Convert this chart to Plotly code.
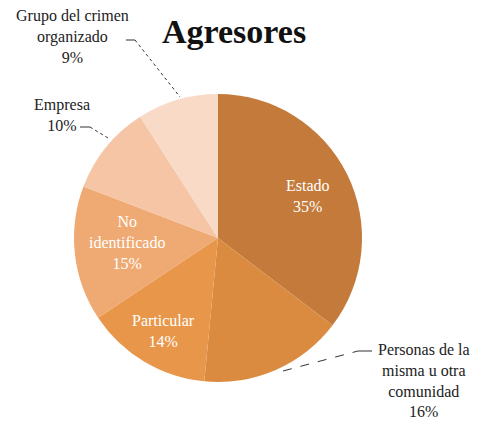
import plotly.graph_objects as go

categories = ["Estado", "Personas de la misma u otra comunidad", "Particular",
              "No identificado", "Empresa", "Grupo del crimen organizado"]
values = [35, 16, 14, 15, 10, 9]
label_lines = [["Estado"], ["Personas de la", "misma u otra", "comunidad"], ["Particular"],
               ["No", "identificado"], ["Empresa"], ["Grupo del crimen", "organizado"]]
colors = ["#C47A3A", "#DA8B40", "#E8964A", "#EFA972", "#F5C5A6", "#F8DAC7"]

# The page body has an 8px default margin; size the figure to the visible area.
OFF = 8
W, H = 483 - OFF, 421 - OFF

def px(x):
    return (x - OFF) / W

def py(y):
    return 1 - (y - OFF) / H

CX, CY, R = 218, 238, 144  # pie placement in window pixels

fig = go.Figure(go.Pie(
    labels=categories, values=values, sort=False, direction="clockwise", rotation=0,
    textinfo="none",
    marker=dict(colors=colors, line=dict(color="white", width=0)),
    domain=dict(x=[px(CX - R), px(CX + R)], y=[py(CY + R), py(CY - R)]),
    showlegend=False, hoverinfo="label+percent",
))

def lbl(i):
    return "<br>".join(label_lines[i] + [f"{values[i]}%"])

# label placement (window px): x, y-center, colour
place = [(308, 196, "white"), (424, 380, "#222"), (163, 331, "white"),
         (127, 242, "white"), (62, 115, "#222"), (72, 36, "#222")]

anns = [dict(text="<b>Agresores</b>", x=px(234), y=py(31),
             font=dict(family="Liberation Serif", size=34, color="#111"))]
for i, (lx, ly, col) in enumerate(place):
    anns.append(dict(text=lbl(i), x=px(lx), y=py(ly),
                     font=dict(family="Liberation Serif", size=16, color=col)))
for a in anns:
    a.update(xref="paper", yref="paper", showarrow=False, xanchor="center", yanchor="middle")

def seg(x0, y0, x1, y1, dash="solid"):
    return dict(type="line", xref="paper", yref="paper", x0=px(x0), y0=py(y0),
                x1=px(x1), y1=py(y1), line=dict(color="#333", width=1, dash=dash))

shapes = [
    seg(126, 40, 135, 40), seg(135, 40, 180, 97, "dot"),
    seg(80, 127, 90, 127), seg(90, 127, 108, 138, "dot"),
    seg(283, 371, 358, 351, "dash"), seg(358, 351, 372, 351),
]

fig.update_layout(width=W, height=H, margin=dict(l=0, r=0, t=0, b=0),
                  paper_bgcolor="white", plot_bgcolor="white",
                  annotations=anns, shapes=shapes)
fig.write_html("out.html")
